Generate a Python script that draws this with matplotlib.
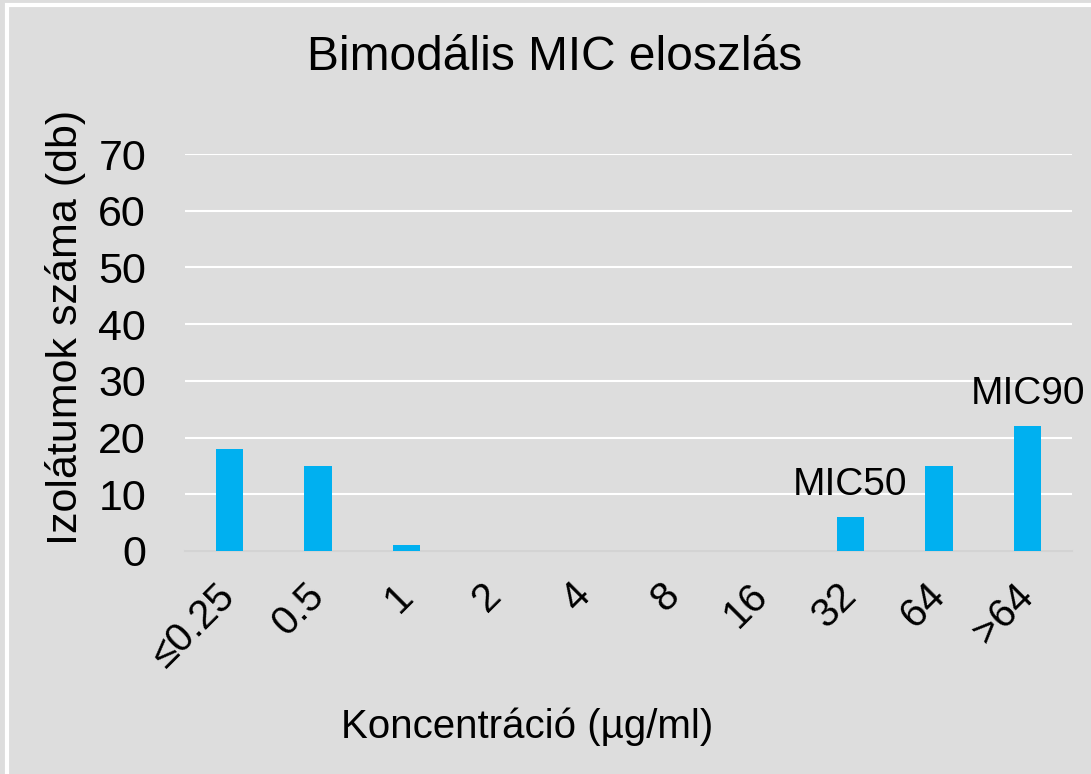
import matplotlib.pyplot as plt
from matplotlib.patches import Rectangle

# MIC distribution data
categories = ["≤0.25", "0.5", "1", "2", "4", "8", "16", "32", "64", ">64"]
counts = [18, 15, 1, 0, 0, 0, 0, 6, 15, 22]
labels = {"32": "MIC50", ">64": "MIC90"}

bg = "#dddddd"
bar_color = "#00b0f0"
font = "Liberation Sans"

fig = plt.figure(figsize=(10.91, 7.74), dpi=100, facecolor=bg)
W, H = 1091, 774
ax = fig.add_axes([185 / W, (774 - 551) / H, (1072 - 185) / W, (551 - 154) / H])
ax.set_facecolor(bg)

x = list(range(len(categories)))
bars = ax.bar(x, counts, width=0.31, color=bar_color, zorder=3)

ax.set_xlim(-0.5, len(categories) - 0.5)
ax.set_ylim(0, 70)
ax.set_yticks(range(0, 71, 10))
ax.grid(axis="y", color="white", linewidth=1.5, zorder=0)
for s in ["top", "right", "left"]:
    ax.spines[s].set_visible(False)
ax.spines["bottom"].set_color("#d3d3d3")
ax.spines["bottom"].set_linewidth(1.5)
ax.tick_params(axis="both", length=0)

ax.set_xticks(x)
ax.set_xticklabels(categories, rotation=45, ha="right", va="center",
                   rotation_mode="anchor", fontsize=29, family=font)
ax.tick_params(axis="x", pad=28)
for lab in ax.get_yticklabels():
    lab.set_fontsize(31)
    lab.set_family(font)
ax.tick_params(axis="y", pad=28)

# data labels above bars
for i, cat in enumerate(categories):
    if cat in labels:
        ax.annotate(labels[cat], (i, counts[i]), xytext=(0, 10), textcoords="offset points",
                    ha="center", va="bottom", fontsize=28, family=font)

fig.text(66 / W, 1 - 327 / H, "Izolátumok száma (db)", fontsize=31, family=font,
         rotation=90, ha="center", va="center")
fig.text(527 / W, 1 - 727 / H, "Koncentráció (µg/ml)", fontsize=29, family=font,
         ha="center", va="center")
fig.text(555 / W, 1 - 58 / H, "Bimodális MIC eloszlás", fontsize=34.5, family=font,
         ha="center", va="center")

# white chart frame
fig.patches.append(Rectangle((7 / W, -0.1), 1.2, (774 - 5) / H + 0.1, transform=fig.transFigure,
                             fill=False, edgecolor="white", linewidth=3))

fig.savefig("out.png", dpi=100, facecolor=bg)
